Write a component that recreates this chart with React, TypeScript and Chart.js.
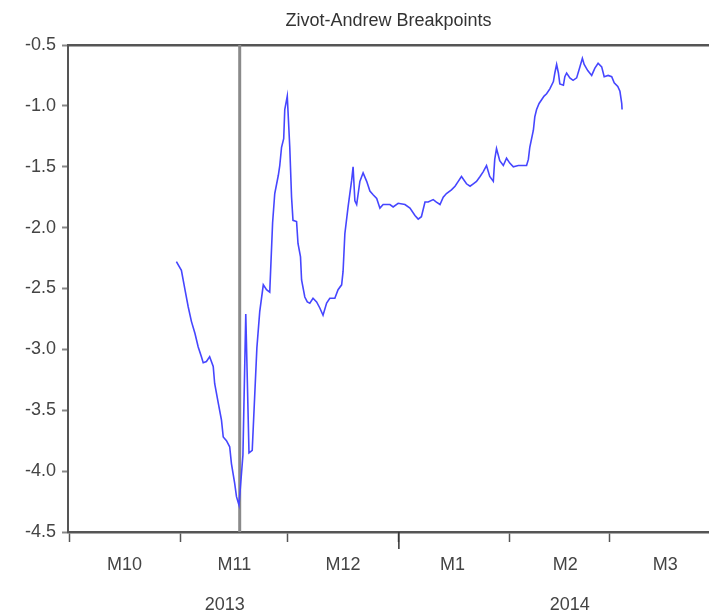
import React, { useEffect, useRef } from 'react';
import { Chart, registerables } from 'chart.js';

Chart.register(...registerables);

// Day offsets counted from 1 Oct 2013 (day 0)
const dayIndex = [
  29.8, 31.2, 32.2, 33.1, 34.0, 35.0, 35.9, 36.8, 37.3, 38.2,
  39.1, 40.1, 40.5, 41.5, 42.4, 42.9, 43.8, 44.7, 45.2, 46.1,
  46.6, 47.3, 48.4, 49.2, 50.1, 51.0, 52.3, 53.1, 54.1, 55.0,
  55.9, 56.7, 57.3, 58.3, 58.7, 59.2, 59.8, 60.1, 60.8, 61.5,
  62.0, 62.4, 63.4, 63.8, 64.5, 64.8, 65.7, 66.4, 67.1, 68.0,
  69.0, 69.9, 70.8, 71.8, 72.7, 74.1, 75.0, 76.0, 76.4, 76.9,
  77.8, 78.8, 79.2, 79.7, 80.2, 81.1, 82.0, 83.0, 83.9, 84.8,
  85.8, 86.7, 87.6, 89.5, 90.4, 91.8, 93.7, 95.1, 96.5, 97.4,
  98.3, 99.3, 100.2, 101.6, 102.5, 103.5, 104.4, 105.3, 106.7, 107.7,
  108.6, 109.5, 110.9, 111.9, 112.8, 113.7, 114.7, 115.6, 116.5, 117.4,
  118.4, 118.8, 119.3, 120.2, 121.2, 122.1, 123.0, 124.0, 125.4, 126.8,
  127.7, 128.2, 128.6, 129.6, 130.0, 130.5, 131.2, 131.9, 132.6, 133.3,
  134.2, 135.2, 135.6, 136.1, 136.6, 137.0, 138.0, 138.4, 138.9, 139.8,
  140.7, 141.7, 142.6, 143.3, 143.8, 144.8, 145.9, 146.8, 147.7, 148.7,
  149.4, 150.5, 151.5, 152.2, 153.2, 153.8, 154.3, 154.4,
];

const zaStat = [
  -2.28, -2.35, -2.51, -2.65, -2.77, -2.87, -2.98, -3.06, -3.11, -3.10,
  -3.06, -3.14, -3.28, -3.44, -3.58, -3.72, -3.75, -3.80, -3.94, -4.10,
  -4.21, -4.28, -3.87, -2.71, -3.85, -3.83, -2.99, -2.69, -2.47, -2.51,
  -2.53, -1.96, -1.72, -1.57, -1.49, -1.34, -1.27, -1.03, -0.92, -1.34,
  -1.75, -1.94, -1.95, -2.13, -2.24, -2.43, -2.57, -2.61, -2.62, -2.58,
  -2.61, -2.66, -2.72, -2.62, -2.58, -2.58, -2.51, -2.47, -2.36, -2.05,
  -1.83, -1.61, -1.50, -1.78, -1.81, -1.62, -1.55, -1.62, -1.70, -1.73,
  -1.76, -1.84, -1.81, -1.81, -1.83, -1.80, -1.81, -1.84, -1.90, -1.93,
  -1.91, -1.79, -1.79, -1.77, -1.79, -1.81, -1.75, -1.72, -1.69, -1.66,
  -1.62, -1.58, -1.64, -1.66, -1.64, -1.62, -1.58, -1.54, -1.49, -1.58,
  -1.62, -1.44, -1.35, -1.45, -1.49, -1.43, -1.47, -1.50, -1.49, -1.49,
  -1.49, -1.44, -1.34, -1.20, -1.09, -1.03, -0.98, -0.95, -0.92, -0.90,
  -0.86, -0.80, -0.73, -0.66, -0.73, -0.82, -0.83, -0.76, -0.73, -0.77,
  -0.79, -0.77, -0.68, -0.61, -0.66, -0.71, -0.75, -0.69, -0.65, -0.68,
  -0.76, -0.75, -0.76, -0.81, -0.84, -0.88, -0.98, -1.03,
];

const breakpointDay = 47.5;
const yTickValues = [-4.5, -4.0, -3.5, -3.0, -2.5, -2.0, -1.5, -1.0, -0.5];
const monthBoundaryDays = [0, 31, 61, 92, 123, 151];
const monthLabels = ['M10', 'M11', 'M12', 'M1', 'M2', 'M3'];
const monthLabelDays = [15.3, 46, 76.4, 107, 138.5, 166.5];
const yearLabels = ['2013', '2014'];
const yearLabelDays = [43.3, 139.8];
const yearBoundaryDay = 92;
const xMin = -0.5;
const xMax = 178.7;
const yMin = -4.5;
const yMax = -0.5;

const FONT = { family: '"Liberation Sans", Arial, sans-serif', size: 18, weight: 'normal' as const };

export default function App() {
  const ref = useRef<HTMLCanvasElement>(null);

  useEffect(() => {
    const isBoundary = (v: number) => monthBoundaryDays.some((b) => Math.abs(b - v) < 1e-6);

    const yearTickPlugin = {
      id: 'yearTick',
      afterDraw(chart: any) {
        const s = chart.scales.x;
        const px = s.getPixelForValue(yearBoundaryDay);
        const ctx = chart.ctx;
        ctx.save();
        ctx.strokeStyle = '#333';
        ctx.lineWidth = 1.5;
        ctx.beginPath();
        ctx.moveTo(px, chart.chartArea.bottom);
        ctx.lineTo(px, chart.chartArea.bottom + 17);
        ctx.stroke();
        ctx.restore();
      },
    };

    const chart = new Chart(ref.current!, {
      type: 'line',
      data: {
        datasets: [
          {
            label: 'Zivot-Andrews',
            data: dayIndex.map((d, i) => ({ x: d, y: zaStat[i] })),
            borderColor: '#4646ff',
            borderWidth: 1.6,
            pointRadius: 0,
            tension: 0,
            order: 1,
          },
          {
            label: 'Breakpoint',
            data: [
              { x: breakpointDay, y: yMin },
              { x: breakpointDay, y: yMax },
            ],
            borderColor: '#8a8a8a',
            borderWidth: 3,
            pointRadius: 0,
            order: 2,
          },
        ],
      },
      options: {
        animation: false,
        responsive: false,
        layout: { padding: 0 },
        plugins: {
          legend: { display: false },
          tooltip: { enabled: false },
          title: {
            display: true,
            fullSize: false,
            text: 'Zivot-Andrew Breakpoints',
            color: '#333',
            font: FONT,
            padding: { top: 10.7, bottom: 12.7 },
          },
        },
        scales: {
          x: {
            type: 'linear',
            position: 'bottom',
            min: xMin,
            max: xMax,
            weight: 0,
            afterBuildTicks: (s: any) => {
              const vals = [...monthBoundaryDays, ...monthLabelDays].sort((a, b) => a - b);
              s.ticks = vals.map((v) => ({ value: v }));
            },
            afterFit: (s: any) => {
              s.height = 50;
            },
            grid: {
              display: true,
              drawOnChartArea: false,
              drawTicks: true,
              tickLength: 10,
              tickWidth: 1.5,
              tickColor: (c: any) => (c.tick && isBoundary(c.tick.value) ? '#555' : 'rgba(0,0,0,0)'),
            },
            border: { display: true, color: '#555', width: 2.5 },
            ticks: {
              autoSkip: false,
              maxRotation: 0,
              padding: 12,
              color: '#444',
              font: FONT,
              callback: (v: any) => {
                const i = monthLabelDays.findIndex((m) => Math.abs(m - Number(v)) < 1e-6);
                return i >= 0 ? monthLabels[i] : '';
              },
            },
          },
          xYear: {
            type: 'linear',
            position: 'bottom',
            min: xMin,
            max: xMax,
            weight: 1,
            afterBuildTicks: (s: any) => {
              s.ticks = yearLabelDays.map((v) => ({ value: v }));
            },
            afterFit: (s: any) => {
              s.height = 31;
            },
            grid: { display: false },
            border: { display: false },
            ticks: {
              autoSkip: false,
              maxRotation: 0,
              padding: 4,
              color: '#444',
              font: FONT,
              callback: (v: any) => {
                const i = yearLabelDays.findIndex((m) => Math.abs(m - Number(v)) < 1e-6);
                return i >= 0 ? yearLabels[i] : '';
              },
            },
          },
          xTop: {
            type: 'linear',
            position: 'top',
            min: xMin,
            max: xMax,
            afterFit: (s: any) => {
              s.height = 0;
            },
            grid: { display: false },
            ticks: { display: false },
            border: { display: true, color: '#555', width: 2.5 },
          },
          y: {
            type: 'linear',
            min: yMin,
            max: yMax,
            afterBuildTicks: (s: any) => {
              s.ticks = yTickValues.map((v) => ({ value: v }));
            },
            afterFit: (s: any) => {
              s.width = 68;
            },
            grid: {
              display: true,
              drawOnChartArea: false,
              tickLength: 6,
              tickWidth: 2,
              tickColor: '#888',
            },
            border: { display: true, color: '#555', width: 2 },
            ticks: {
              padding: 6,
              color: '#444',
              font: FONT,
              callback: (v: any) => Number(v).toFixed(1),
            },
          },
        },
      } as any,
      plugins: [yearTickPlugin],
    });

    return () => chart.destroy();
  }, []);

  return (
    <div style={{ position: 'absolute', left: 0, top: 0, width: 709, height: 613, background: '#fff' }}>
      <canvas ref={ref} width={709} height={613} />
    </div>
  );
}
